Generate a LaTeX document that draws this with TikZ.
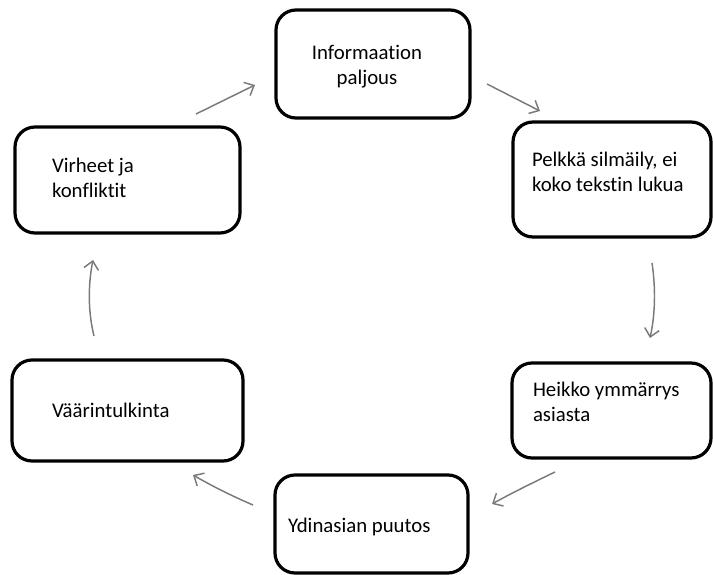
\documentclass[tikz,border=0pt]{standalone}
\usepackage{fontspec}
\setmainfont{Carlito}[Ligatures=NoCommon]
\usetikzlibrary{arrows.meta}
\begin{document}
\begin{tikzpicture}[x=0.75pt,y=-0.75pt,
  box/.style={draw=black,line width=2.4pt,rounded corners=15pt,fill=white,
    inner sep=0pt,outer sep=0pt},
  txt/.style={inner sep=0pt,outer sep=0pt,align=left,
    font=\fontsize{15.6}{18.75}\selectfont},
  flow/.style={draw=black!52,line width=1.1pt,
    -{Straight Barb[length=6pt,width=11pt,line width=1.1pt]}}]
  \useasboundingbox[fill=white] (0,0) rectangle (713,574);

  % boxes
  \node[box,minimum width=145.5pt,minimum height=81pt]   (b1) at (373,64)     {};
  \node[box,minimum width=148.5pt,minimum height=86.25pt](b2) at (612,179.5)  {};
  \node[box,minimum width=168.75pt,minimum height=79.5pt](b3) at (127.5,180)  {};
  \node[box,minimum width=149.25pt,minimum height=71.25pt](b4) at (611.5,410.5){};
  \node[box,minimum width=173.25pt,minimum height=75.75pt](b5) at (127.5,410.5){};
  \node[box,minimum width=144.75pt,minimum height=73.5pt](b6) at (371.5,524)  {};

  % labels (base anchor = baseline of the last line)
  \node[txt,align=center,anchor=base] (t1) at (367,85) {Informaation\\paljous};
  \node[txt,anchor=base west] (t2) at (532,191) {Pelkkä silmäily, ei\\koko tekstin lukua};
  \node[txt,anchor=base west] (t3) at (52,197) {Virheet ja\\konfliktit};
  \node[txt,anchor=base west] (t4) at (533,421) {Heikko ymmärrys\\asiasta};
  \node[txt,anchor=base west] (t5) at (52,417) {Väärintulkinta};
  \node[txt,anchor=base west] (t6) at (288,532) {Ydinasian puutos};

  % arrow ends
  \coordinate (a1s) at (487,84);  \coordinate (a1e) at (540,111);
  \coordinate (a2s) at (652,263); \coordinate (a2e) at (650,338);
  \coordinate (a3s) at (555,472); \coordinate (a3e) at (492,504);
  \coordinate (a4s) at (253,505); \coordinate (a4e) at (193,475);
  \coordinate (a5s) at (94,336);  \coordinate (a5e) at (93,260);
  \coordinate (a6s) at (196,114); \coordinate (a6e) at (255,85);

  % cycle
  \draw[flow] (a1s) -- (a1e);
  \draw[flow] (a2s) .. controls (656,290) and (655,315) .. (a2e);
  \draw[flow] (a3s) .. controls (530,484) and (510,494) .. (a3e);
  \draw[flow] (a4s) .. controls (232,496) and (212,486) .. (a4e);
  \draw[flow] (a5s) .. controls (88,312) and (88,285) .. (a5e);
  \draw[flow] (a6s) -- (a6e);
\end{tikzpicture}
\end{document}
